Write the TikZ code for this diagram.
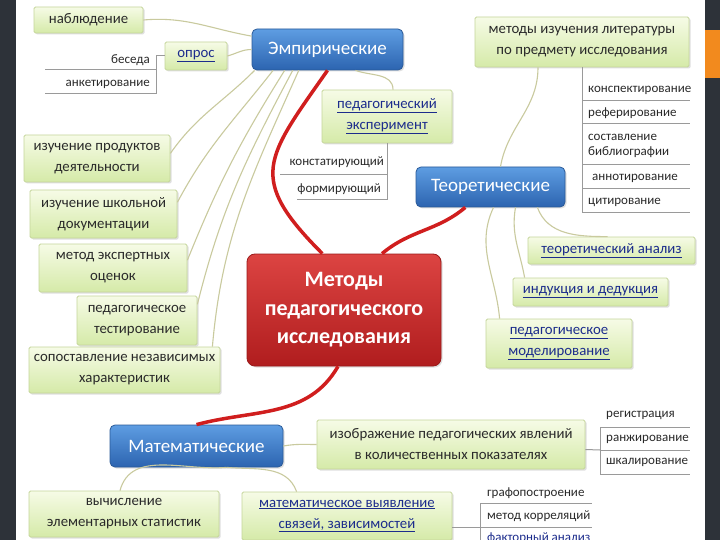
\documentclass[tikz,border=0pt]{standalone}
\usepackage{fontspec}
\setmainfont{Carlito}
\usetikzlibrary{shadows,calc}
\definecolor{darkbar}{HTML}{2D3239}
\definecolor{orangebar}{HTML}{F28A1E}
\definecolor{gtop}{HTML}{F6FBE6}
\definecolor{gbot}{HTML}{D5EAA8}
\definecolor{gborder}{HTML}{C5D69B}
\definecolor{btop}{HTML}{5E9DE2}
\definecolor{bbot}{HTML}{2C64B0}
\definecolor{bborder}{HTML}{2A5A98}
\definecolor{rtop}{HTML}{DC4442}
\definecolor{rbot}{HTML}{B01D1E}
\definecolor{rborder}{HTML}{9A1A1A}
\definecolor{conncol}{HTML}{C9CA9E}
\definecolor{redline}{HTML}{D01E1E}
\definecolor{linkcol}{HTML}{1C2C8C}
\definecolor{listline}{HTML}{9A9A9A}
\definecolor{txt}{HTML}{2A2A2A}
\newcommand{\lnk}[1]{\textcolor{linkcol}{\underline{#1}}}
\tikzset{
 shd/.style={drop shadow={opacity=0.25, shadow xshift=1.5pt, shadow yshift=-1.5pt}},
 gbox/.style={shd, draw=gborder, line width=0.8pt, top color=gtop, bottom color=gbot, rounded corners=1.5pt, align=center, inner sep=2pt, text=txt, font=\fontsize{14.8}{21}\selectfont},
 bbox/.style={shd, draw=bborder, line width=0.8pt, top color=btop, bottom color=bbot, rounded corners=5pt, text=white, inner sep=2pt, font=\fontsize{19}{22}\selectfont},
 rbox/.style={shd, draw=rborder, line width=0.8pt, top color=rtop, bottom color=rbot, rounded corners=8pt, text=white, align=center, inner sep=2pt, font=\fontsize{22}{28.5}\selectfont\bfseries},
 conn/.style={draw=conncol, line width=1.1pt},
 redc/.style={draw=redline, line width=3.5pt},
 lline/.style={draw=listline, line width=1pt},
 ltext/.style={font=\fontsize{13}{15.5}\selectfont, text=txt, inner sep=0pt, align=left},
}
\begin{document}
\begin{tikzpicture}[x=1pt,y=1pt]
\useasboundingbox (0,0) rectangle (720,-540);
\fill[white] (0,0) rectangle (720,-540);
\fill[darkbar] (0,0) rectangle (16,-540);
\fill[darkbar] (705,0) rectangle (720,-540);
\fill[orangebar] (705,-30) rectangle (720,-78);

% main nodes
\node[rbox, minimum width=194pt, minimum height=112pt] (methods) at (344,-310) {Методы\\педагогического\\исследования};
\node[bbox, minimum width=151pt, minimum height=41pt] (emp) at (327.5,-49.5) {Эмпирические};
\node[bbox, minimum width=149pt, minimum height=40pt] (teor) at (490.5,-187) {Теоретические};
\node[bbox, minimum width=173pt, minimum height=42pt] (mat) at (196.5,-446) {Математические};

\draw[redc] (methods.111) to[out=135,in=235,looseness=1.5] (emp.south);
\draw[redc] (methods.56) to[out=40,in=220] (teor.219);
\draw[redc] ($(methods.south)+(-6,0)$) to[out=240,in=15] (mat.north);

% empirical branch
\node[gbox, minimum width=109pt, minimum height=26pt] (nab) at (88.5,-20) {наблюдение};
\node[gbox, minimum width=62pt, minimum height=28pt] (opros) at (196,-56) {\lnk{опрос}};
\node[gbox, minimum width=130pt, minimum height=53pt] (pexp) at (387,-116.5) {\lnk{педагогический}\\\lnk{эксперимент}};
\node[gbox, minimum width=146pt, minimum height=47pt] (p1) at (97,-158.5) {изучение продуктов\\деятельности};
\node[gbox, minimum width=147pt, minimum height=48pt] (p2) at (103.5,-214) {изучение школьной\\документации};
\node[gbox, minimum width=148pt, minimum height=48pt] (p3) at (113,-268) {метод экспертных\\оценок};
\node[gbox, minimum width=120pt, minimum height=49pt] (p4) at (137,-320.5) {педагогическое\\тестирование};
\node[gbox, minimum width=191pt, minimum height=46pt] (p5) at (124.5,-370) {сопоставление независимых\\характеристик};

\draw[conn] (nab.east) to[out=5,in=170] (emp.170);
\draw[conn] (opros.east) to[out=15,in=180] (emp.west);
\draw[conn] (p1.4) to[out=55,in=225] (emp.196);
\draw[conn] (p2.9) to[out=62,in=232] (emp.201);
\draw[conn] (p3.6) to[out=68,in=238] (emp.206);
\draw[conn] (p4.15) to[out=76,in=242] (emp.211);
\draw[conn] ($(p5.north east)+(-8,0)$) to[out=85,in=246] (emp.216);
\draw[conn] ($(emp.south east)+(-48,0)$) to[out=-20,in=90] ($(pexp.north)+(6,0)$);

% opros list
\node[ltext, anchor=east] (bes) at (150,-60) {беседа};
\node[ltext, anchor=east] (ank) at (150,-84) {анкетирование};
\coordinate (obr) at (156,-94);
\draw[lline] (opros.west) -| (obr);
\draw[lline] (45,-70) -- (156,-70);
\draw[lline] (45,-94) -- (obr);

% experiment list
\node[ltext, anchor=east] (konst) at (384,-162) {констатирующий};
\node[ltext, anchor=east] (form) at (381,-189) {формирующий};
\coordinate (peb) at (387,-200);
\draw[lline] (pexp.south) -- (peb);
\draw[lline] (280,-175) -- (387,-175);
\draw[lline] (297,-200) -- (peb);

% theoretical branch
\node[gbox, minimum width=214pt, minimum height=50pt] (lit) at (582,-42) {методы изучения литературы\\по предмету исследования};
\node[gbox, minimum width=167pt, minimum height=27pt] (tan) at (611.5,-250.5) {\lnk{теоретический анализ}};
\node[gbox, minimum width=155pt, minimum height=28pt] (ind) at (590.5,-292) {\lnk{индукция и дедукция}};
\node[gbox, minimum width=146pt, minimum height=49pt] (mod) at (559,-343.5) {\lnk{педагогическое}\\\lnk{моделирование}};

\draw[conn] ($(teor.north)+(10,0)$) to[out=80,in=270] ($(lit.south)+(-44,0)$);
\draw[conn] ($(teor.south east)+(-28,0)$) to[out=-70,in=180] ($(tan.north west)+(80,0)$);
\draw[conn] ($(teor.south)+(25,0)$) to[out=-100,in=100] ($(ind.north west)+(12,0)$);
\draw[conn] ($(teor.south)+(3,0)$) to[out=-115,in=95] ($(mod.north west)+(14,0)$);

% literature list
\coordinate (lb) at (582,-213);
\draw[lline] (lit.south) -- (lb);
\node[ltext, anchor=west] (l1) at (588,-90) {конспектирование};
\node[ltext, anchor=west] (l2) at (588,-113) {реферирование};
\node[ltext, anchor=west] (l3) at (588,-146) {составление\\библиографии};
\node[ltext, anchor=west] (l4) at (592,-178) {аннотирование};
\node[ltext, anchor=west] (l5) at (588,-202) {цитирование};
\foreach \yy in {101,124,165,189,213} \draw[lline] (582,-\yy) -- (690,-\yy);

% mathematical branch
\node[gbox, minimum width=268pt, minimum height=49pt] (izobr) at (451,-444.5) {изображение педагогических явлений\\в количественных показателях};
\node[gbox, minimum width=190pt, minimum height=46pt] (vych) at (124,-514) {вычисление\\элементарных статистик};
\node[gbox, minimum width=210pt, minimum height=48pt] (mvy) at (347,-516) {\lnk{математическое выявление}\\\lnk{связей, зависимостей}};

\draw[conn] (mat.east) to[out=10,in=180] (izobr.west);
\draw[conn] ($(mat.south)+(30,0)$) to[out=185,in=75] ($(vych.north)+(-4,0)$);
\draw[conn] ($(mat.south)+(30,0)$) to[out=-5,in=110] ($(mvy.north west)+(55,0)$);

% izobr list
\coordinate (ib) at (600,-450);
\draw[lline] ($(izobr.east)+(0,-5)$) -- (ib);
\draw[lline] (600,-427) -- (600,-474);
\foreach \yy in {427,450,474} \draw[lline] (600,-\yy) -- (690,-\yy);
\node[ltext, anchor=west] (r1) at (606,-415) {регистрация};
\node[ltext, anchor=west] (r2) at (606,-439) {ранжирование};
\node[ltext, anchor=west] (r3) at (606,-462) {шкалирование};

% mvy list
\begin{scope}
\clip (440,-480) rectangle (592,-545);
\coordinate (mb) at (480,-527);
\draw[lline] ($(mvy.east)+(0,-11)$) -- (mb);
\draw[lline] (480,-503) -- (480,-545);
\draw[lline] (480,-503) -- (592,-503);
\draw[lline] (480,-527) -- (592,-527);
\node[ltext, anchor=west] (m1) at (487,-493) {графопостроение};
\node[ltext, anchor=west] (m2) at (487,-516) {метод корреляций};
\node[ltext, anchor=west] (m3) at (487,-539) {\lnk{факторный анализ}};
\end{scope}
\end{tikzpicture}
\end{document}
